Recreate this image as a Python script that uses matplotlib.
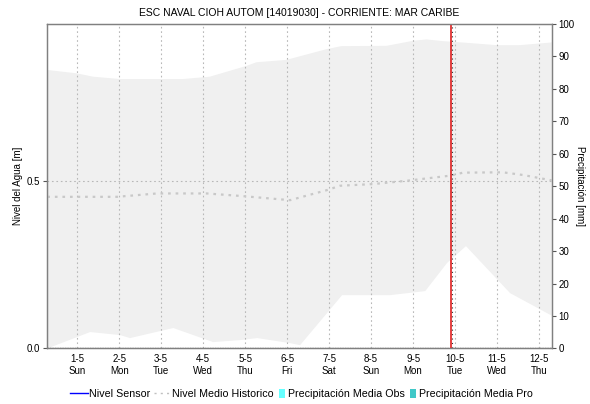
import numpy as np
import matplotlib.pyplot as plt
from matplotlib.lines import Line2D
from matplotlib.patches import Patch

plt.rcParams['font.family'] = ['Liberation Sans', 'DejaVu Sans']

# day ticks (day index, label)
day_pos = [1, 2, 3, 4, 5, 6, 7, 8, 9, 10, 11, 12]
day_labels = ['1-5\nSun', '2-5\nMon', '3-5\nTue', '4-5\nWed', '5-5\nThu', '6-5\nFri',
              '7-5\nSat', '8-5\nSun', '9-5\nMon', '10-5\nTue', '11-5\nWed', '12-5\nThu']

# historic band (upper / lower), water level [m]
up_x = [0.29, 0.99, 1.38, 2.02, 3.52, 4.16, 5.03, 5.27, 5.98, 6.94, 7.29, 8.37,
        9.0, 9.32, 9.71, 10.27, 10.99, 11.54, 12.30]
up_y = [0.830, 0.820, 0.810, 0.803, 0.803, 0.810, 0.842, 0.853, 0.860, 0.892, 0.901,
        0.902, 0.917, 0.921, 0.916, 0.911, 0.904, 0.904, 0.912]
lo_x = [0.29, 1.31, 2.02, 2.26, 3.29, 4.24, 4.88, 5.29, 6.07, 6.31, 7.31, 8.45,
        9.29, 9.81, 10.26, 11.31, 12.30]
lo_y = [0.0, 0.049, 0.040, 0.031, 0.061, 0.019, 0.025, 0.031, 0.016, 0.010, 0.159,
        0.159, 0.171, 0.255, 0.305, 0.165, 0.098]

# mean historic level [m]
mean_x = [0.29, 1.95, 2.90, 4.09, 4.95, 6.07, 6.95, 7.26, 8.05, 8.86, 9.88, 10.19,
          11.14, 11.62, 12.30]
mean_y = [0.452, 0.452, 0.462, 0.462, 0.454, 0.442, 0.472, 0.485, 0.490, 0.500,
          0.515, 0.524, 0.525, 0.517, 0.501]

now_day = 9.905

fig = plt.figure(figsize=(5.9, 4.04), dpi=100)
ax = fig.add_axes([0.0802, 0.1374, 0.8548, 0.8032])
ax2 = ax.twinx()

band_x = np.concatenate([up_x, lo_x[::-1]])
band_y = np.concatenate([up_y, lo_y[::-1]])
ax.fill(band_x, band_y, color='#f0f0f0', lw=0, zorder=1)

for d in day_pos:
    ax.axvline(d, color='#b8b8b8', lw=0.8, ls=(0, (1.5, 2.5)), zorder=2)
ax.axhline(0.5, color='#b8b8b8', lw=0.8, ls=(0, (1.5, 2.5)), zorder=2)
ax.axhline(0.0, color='#333333', lw=0.9, ls=(0, (1, 1)), zorder=3)

ax.plot(mean_x, mean_y, color='#c8c8c8', lw=1.6, ls=(0, (1.2, 2.2)), zorder=3)

ax.axvline(now_day, color='#e02020', lw=1.2, zorder=4)
ax.axvline(now_day + 0.03, color='#333333', lw=0.8, ls=(0, (1, 3)), zorder=5)

ax.set_xlim(0.29, 12.30)
ax.set_ylim(0, 0.967)
ax.set_xticks(day_pos)
ax.set_xticklabels(day_labels, fontsize=7, linespacing=1.3)
ax.set_yticks([0.0, 0.5])
ax.set_yticklabels(['0.0', '0.5'], fontsize=7)
ax.tick_params(axis='x', length=0, pad=4)
ax.tick_params(axis='y', length=3, width=0.8, color='#555555', pad=2)
ax.set_ylabel('Nivel del Agua [m]', fontsize=7, va='center')
ax.yaxis.set_label_coords(-0.058, 0.5)

ax2.set_ylim(0, 100)
ax2.set_yticks(range(0, 101, 10))
ax2.tick_params(axis='y', labelsize=7, length=3, width=0.8, color='#555555', pad=2)
ax2.set_ylabel('Precipitación [mm]', fontsize=7, rotation=270, va='center')
ax2.yaxis.set_label_coords(1.056, 0.5)

for a in (ax, ax2):
    for s in a.spines.values():
        a.spines[s.spine_type].set_color('#808080')
        a.spines[s.spine_type].set_linewidth(0.9)

ax.set_title('ESC NAVAL CIOH AUTOM [14019030] - CORRIENTE: MAR CARIBE', fontsize=7.5, pad=6)

# legend: one small legend per entry so each handle keeps its own width
entries = [
    (Line2D([], [], color='#0000ff', lw=1), 'Nivel Sensor', 70, 1.68, 0.05),
    (Line2D([], [], color='#c0c0c0', lw=1, ls=(0, (1.5, 3))), 'Nivel Medio Historico', 154, 1.4, 0.3),
    (Patch(facecolor='#66ffff', edgecolor='none'), 'Precipitación Media Obs', 279, 0.6, 0.2),
    (Patch(facecolor='#40c8c8', edgecolor='none'), 'Precipitación Media Pro', 410, 0.6, 0.2),
]
for h, lab, xpix, hl, pad in entries:
    leg = fig.legend([h], [lab], loc='center left', bbox_to_anchor=(xpix / 590, 0.0248),
                     frameon=False, fontsize=7.7, handlelength=hl, handleheight=0.95,
                     handletextpad=pad, borderpad=0, borderaxespad=0)

fig.savefig('out.png', dpi=100)
